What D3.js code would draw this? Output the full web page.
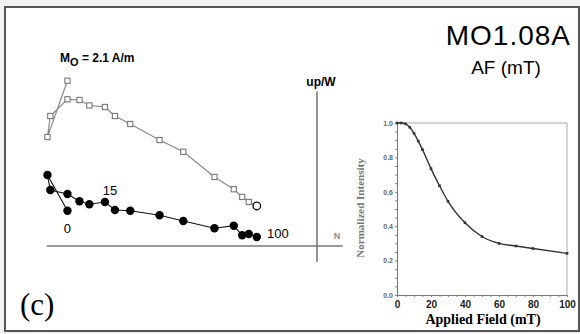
<!DOCTYPE html>
<html><head><meta charset="utf-8">
<script src="https://cdn.jsdelivr.net/npm/d3@7"></script>
<style>html,body{margin:0;padding:0;background:#fff;}svg{display:block;}</style>
</head><body>
<svg id="c" width="580" height="334"></svg>
<script>
// Demagnetisation steps (mT)
const steps = [0, 2.5, 5, 7.5, 10, 12.5, 15, 20, 25, 30, 40, 50, 60, 70, 80, 100];
// Zijderveld components (A/m): N (horizontal), E (horizontal plane, filled), Up (vertical plane, open)
const compN  = [-1.745, -1.885, -1.865, -1.745, -1.661, -1.592, -1.483, -1.413, -1.306, -1.101, -0.935, -0.717, -0.582, -0.523, -0.477, -0.421];
const compE  = [0.247, 0.497, 0.392, 0.364, 0.313, 0.292, 0.308, 0.252, 0.247, 0.215, 0.175, 0.124, 0.142, 0.075, 0.084, 0.063];
const compUp = [1.156, 0.762, 0.909, 1.026, 1.021, 0.983, 0.972, 0.909, 0.853, 0.741, 0.659, 0.483, 0.397, 0.343, 0.308, 0.280];
const stepLabels = [0, 15, 100];
// Inset: normalized intensity vs applied field
const afField = [0, 2.5, 5, 7.5, 10, 12.5, 15, 20, 25, 30, 40, 50, 60, 70, 80, 100];
const afInt   = [1.0, 1.0, 0.995, 0.975, 0.94, 0.895, 0.845, 0.735, 0.635, 0.545, 0.42, 0.34, 0.30, 0.285, 0.27, 0.242];
const afXTicks = [0, 20, 40, 60, 80, 100];
const afYTicks = [0, 0.2, 0.4, 0.6, 0.8, 1.0];

const svg = d3.select("#c");
// background & frame
svg.append("rect").attr("x",0).attr("y",0).attr("width",580).attr("height",334).attr("fill","#f2f2f2");
svg.append("rect").attr("x",5).attr("y",7).attr("width",574).attr("height",324)
  .attr("fill","#fff").attr("stroke","#555").attr("stroke-width",2);

// ---------- Zijderveld ----------
const zx = d3.scaleLinear().domain([-2, 0]).range([31, 317]);
const zy = d3.scaleLinear().domain([0, 1]).range([246, 103]);
const g = svg.append("g");
g.append("line").attr("x1",zx(-1.89)).attr("x2",zx(0.18)).attr("y1",zy(0)).attr("y2",zy(0))
  .attr("stroke","#777").attr("stroke-width",1.6);
g.append("line").attr("x1",zx(0)).attr("x2",zx(0)).attr("y1",zy(-0.11)).attr("y2",zy(1.08))
  .attr("stroke","#777").attr("stroke-width",1.6);
g.append("text").attr("x",zx(0)+4).attr("y",86).attr("text-anchor","middle")
  .attr("font-family","Liberation Sans, Arial").attr("font-weight","bold").attr("font-size",12).text("up/W");
g.append("text").attr("x",zx(0.14)).attr("y",239).attr("text-anchor","middle")
  .attr("font-family","Liberation Sans, Arial").attr("font-weight","bold").attr("font-size",9).attr("fill","#888").text("N");

const idx = d3.range(steps.length);
// vertical projection (open)
const lineUp = d3.line().x(i=>zx(compN[i])).y(i=>zy(compUp[i]));
g.append("path").attr("d",lineUp(idx)).attr("fill","none").attr("stroke","#8a8a8a").attr("stroke-width",1.2);
g.selectAll("rect.up").data(idx.slice(0,-1)).enter().append("rect").attr("class","up")
  .attr("x",i=>zx(compN[i])-2.6).attr("y",i=>zy(compUp[i])-2.6).attr("width",5.2).attr("height",5.2)
  .attr("fill","#fff").attr("stroke","#777").attr("stroke-width",1.1);
const last = idx[idx.length-1];
g.append("circle").attr("cx",zx(compN[last])).attr("cy",zy(compUp[last])).attr("r",3.8)
  .attr("fill","#fff").attr("stroke","#111").attr("stroke-width",1.3);

// horizontal projection (filled)
const lineE = d3.line().x(i=>zx(compN[i])).y(i=>zy(compE[i]));
g.append("path").attr("d",lineE(idx)).attr("fill","none").attr("stroke","#111").attr("stroke-width",1.1);
g.selectAll("circle.e").data(idx).enter().append("circle").attr("class","e")
  .attr("cx",i=>zx(compN[i])).attr("cy",i=>zy(compE[i])).attr("r",4.2).attr("fill","#000");

// step labels
const labOff = {0:[0,18], 15:[5,-11], 100:[21,-3]};
stepLabels.forEach(s=>{
  const i = steps.indexOf(s);
  g.append("text").attr("x",zx(compN[i])+labOff[s][0]).attr("y",zy(compE[i])+labOff[s][1]+4)
    .attr("text-anchor","middle").attr("font-family","Liberation Sans, Arial").attr("font-size",13).text(s);
});

// Mo label
const mo = g.append("text").attr("x",60).attr("y",62).attr("font-family","Liberation Sans, Arial")
  .attr("font-weight","bold").attr("font-size",12);
mo.append("tspan").text("M");
mo.append("tspan").attr("dy",4).attr("font-size",11).text("O");
mo.append("tspan").attr("dy",-4).text(" = 2.1 A/m");

// titles
svg.append("text").attr("x",571).attr("y",45).attr("text-anchor","end")
  .attr("font-family","Liberation Sans, Arial").attr("font-size",28).attr("letter-spacing",1).text("MO1.08A");
svg.append("text").attr("x",506).attr("y",74).attr("text-anchor","middle")
  .attr("font-family","Liberation Sans, Arial").attr("font-size",19).text("AF (mT)");
svg.append("text").attr("x",20).attr("y",315)
  .attr("font-family","Liberation Serif, Times New Roman").attr("font-size",31).text("(c)");

// ---------- Inset ----------
const ix = d3.scaleLinear().domain([0,100]).range([397, 567]);
const iy = d3.scaleLinear().domain([0,1]).range([295, 123]);
const ig = svg.append("g");
ig.append("line").attr("x1",ix(0)).attr("x2",ix(100)).attr("y1",iy(1)).attr("y2",iy(1)).attr("stroke","#aaa");
ig.append("line").attr("x1",ix(100)).attr("x2",ix(100)).attr("y1",iy(1)).attr("y2",iy(0)).attr("stroke","#aaa");

const xAxis = d3.axisBottom(ix).tickValues(d3.range(0,101,5)).tickSize(2)
  .tickFormat(d=>afXTicks.includes(d)?d:"");
const xa = ig.append("g").attr("transform",`translate(0,${iy(0)})`).call(xAxis);
xa.select(".domain").attr("stroke","#777");
xa.selectAll(".tick line").attr("stroke","#888");
xa.selectAll("text").attr("font-family","Liberation Sans, Arial").attr("font-weight","bold")
  .attr("font-size",10).attr("fill","#222").attr("dy","0.75em").attr("y",5);

const yAxis = d3.axisLeft(iy).tickValues(d3.range(0,1.001,0.05)).tickSize(2)
  .tickFormat(d=>afYTicks.some(t=>Math.abs(t-d)<1e-6)?d3.format(".1f")(d):"");
const ya = ig.append("g").attr("transform",`translate(${ix(0)},0)`).call(yAxis);
ya.select(".domain").attr("stroke","#777");
ya.selectAll(".tick line").attr("stroke","#888");
ya.selectAll("text").attr("font-family","Liberation Sans, Arial").attr("font-weight","bold")
  .attr("font-size",7).attr("fill","#666").attr("x",-4);

const aline = d3.line().x((d,i)=>ix(afField[i])).y((d,i)=>iy(afInt[i])).curve(d3.curveMonotoneX);
ig.append("path").attr("d",aline(afInt)).attr("fill","none").attr("stroke","#333").attr("stroke-width",1.4);
ig.selectAll("rect.af").data(afInt).enter().append("rect").attr("class","af")
  .attr("x",(d,i)=>ix(afField[i])-1.3).attr("y",d=>iy(d)-1.3).attr("width",2.6).attr("height",2.6).attr("fill","#333");

ig.append("text").attr("x",483).attr("y",324).attr("text-anchor","middle")
  .attr("font-family","Liberation Serif, Times New Roman").attr("font-weight","bold").attr("font-size",14)
  .text("Applied Field (mT)");
ig.append("text").attr("transform",`translate(364,208) rotate(-90)`).attr("text-anchor","middle")
  .attr("font-family","Liberation Serif, Times New Roman").attr("font-weight","bold").attr("font-size",11).attr("fill","#777")
  .text("Normalized Intensity");
</script>
</body></html>
